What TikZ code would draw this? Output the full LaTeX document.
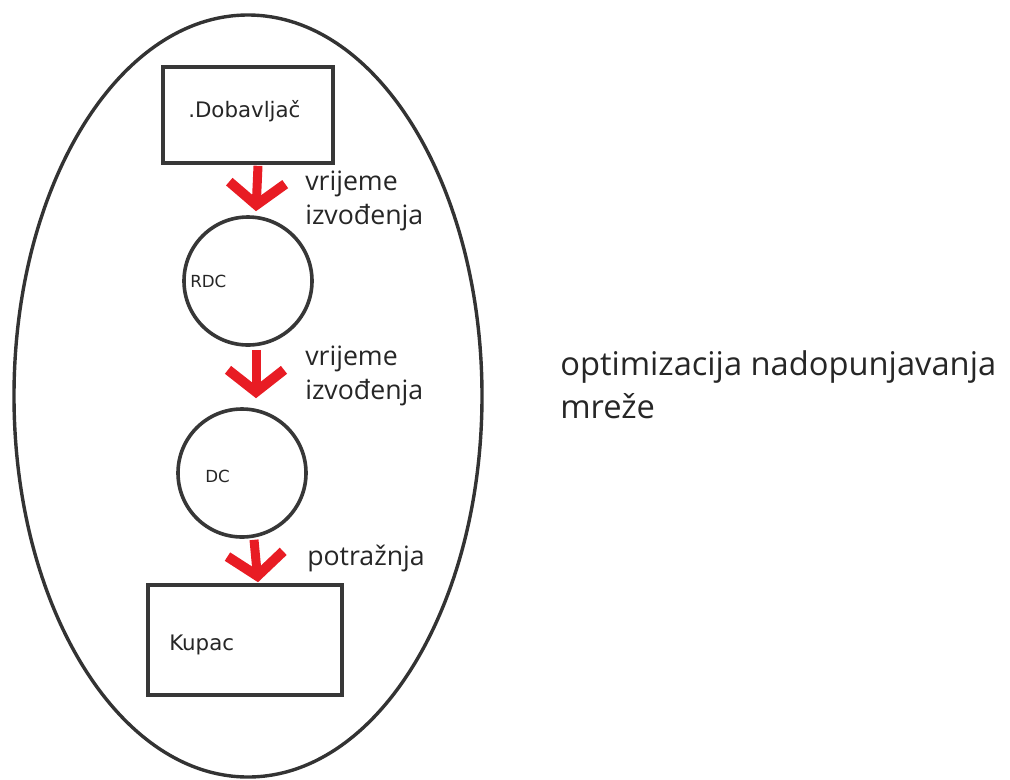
\documentclass[tikz,border=0pt]{standalone}
\usepackage{fontspec}
\setmainfont{Open Sans}
\newfontfamily\nodefont{DejaVu Sans}
\usetikzlibrary{arrows.meta,calc}
\definecolor{arrred}{RGB}{232,28,36}
\definecolor{edge}{RGB}{55,55,55}
\begin{document}
\begin{tikzpicture}[x=0.75pt,y=-0.75pt,
  boxnode/.style={draw=edge,line width=3.6*0.75pt,fill=white,inner sep=0pt},
  circnode/.style={draw=edge,line width=3.6*0.75pt,fill=white,circle,inner sep=0pt,minimum size=128*0.75pt},
  small/.style={font=\nodefont\fontsize{12.5pt}{14pt}\selectfont,inner sep=0pt,anchor=base west,text=black!85},
  mid/.style={font=\nodefont\fontsize{16pt}{19pt}\selectfont,inner sep=0pt,anchor=base west,text=black!85},
  label/.style={font=\fontsize{20pt}{24pt}\selectfont,inner sep=0pt,anchor=base west,text=black!85},
  big/.style={font=\fontsize{24.5pt}{29pt}\selectfont,inner sep=0pt,anchor=base west,text=black!85},
  flow/.style={draw=arrred,line width=9*0.75pt,-{Straight Barb[length=22*0.75pt,width=56*0.75pt,line width=10*0.75pt]}}
]
\useasboundingbox (0,0) rectangle (1010,779);
% outer ellipse
\draw[line width=3.4*0.75pt,black!80] (248,396) ellipse [x radius=234, y radius=381];
% nodes
\node[boxnode,minimum width=170*0.75pt,minimum height=96*0.75pt] (dob) at (248,115) {};
\node[mid] (tdob) at (188,117) {.Dobavljač};
\node[circnode] (rdc) at (248,281) {};
\node[small] (trdc) at (190,287) {RDC};
\node[circnode] (dc) at (242,473) {};
\node[small] (tdc) at (205,482) {DC};
\node[boxnode,minimum width=194*0.75pt,minimum height=110*0.75pt] (kup) at (245,640) {};
\node[mid] (tkup) at (169,650) {Kupac};
% connectors
\draw[flow] ($(dob.south)+(10,1)$) -- ($(rdc.north)+(8,-4)$);
\draw[flow] ($(rdc.south)+(8,3)$) -- ($(dc.north)+(14,-9)$);
\draw[flow] ($(dc.south)+(12,1)$) -- ($(kup.north)+(13,-1)$);
% labels
\node[label] (l1a) at (305,190) {vrijeme};
\node[label] (l1b) at (305,224) {izvođenja};
\node[label] (l2a) at (305,365) {vrijeme};
\node[label] (l2b) at (305,399) {izvođenja};
\node[label] (l3) at (307,565) {potražnja};
\node[big] (t1) at (560,375) {optimizacija nadopunjavanja};
\node[big] (t2) at (560,418) {mreže};
\end{tikzpicture}
\end{document}
